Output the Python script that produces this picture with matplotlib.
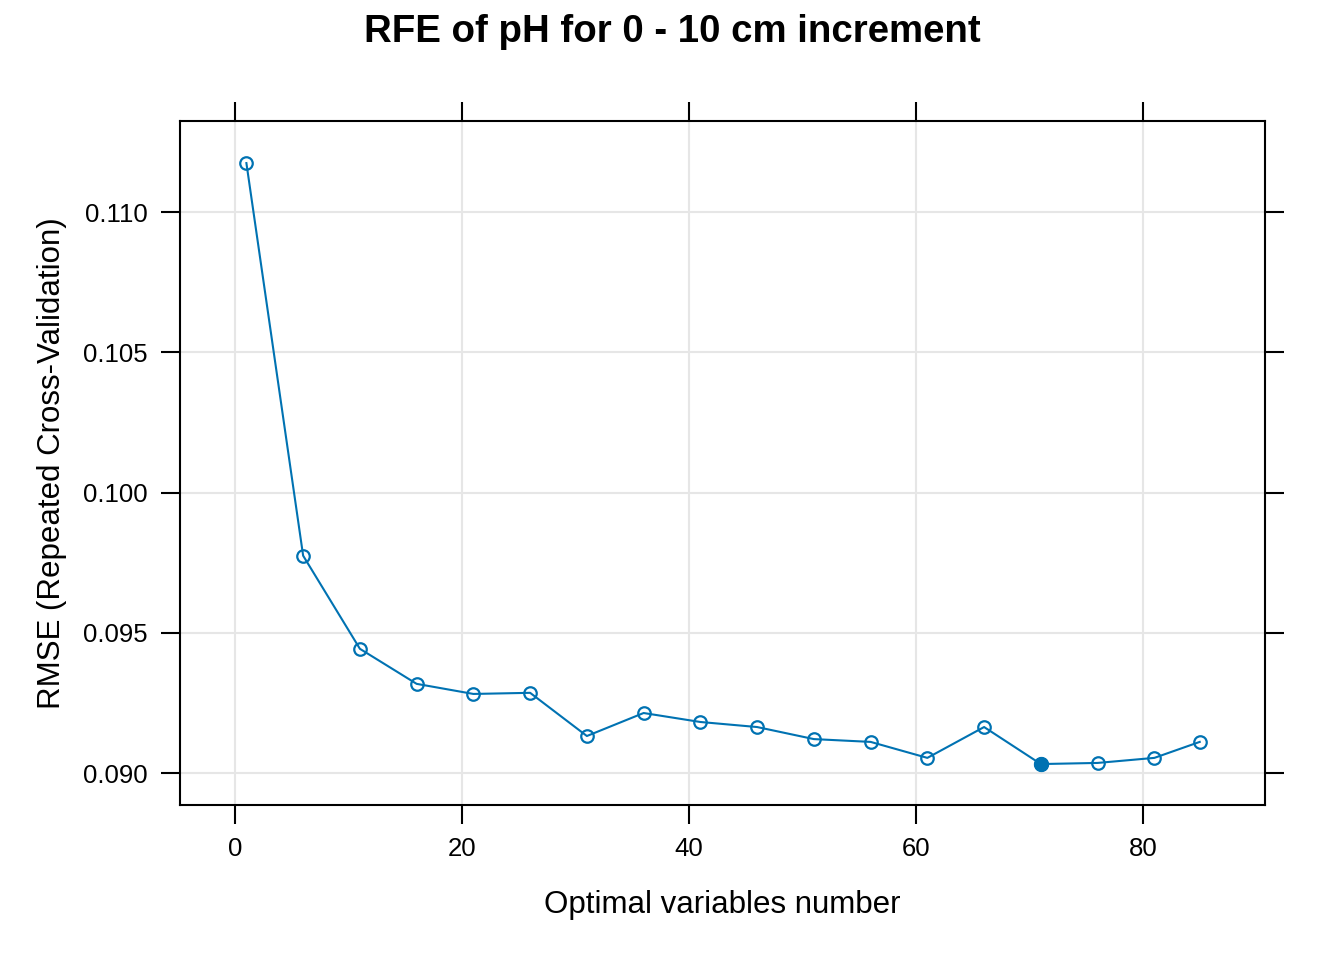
import matplotlib
matplotlib.use("Agg")
import matplotlib.pyplot as plt

variables = [1, 6, 11, 16, 21, 26, 31, 36, 41, 46, 51, 56, 61, 66, 71, 76, 81, 85]
rmse = [0.11175, 0.09775, 0.09443, 0.09318, 0.09282, 0.09286, 0.09132, 0.09214,
        0.09182, 0.09164, 0.09121, 0.09111, 0.09054, 0.09164, 0.09032, 0.09036,
        0.09054, 0.09111]
best_index = 14
xticks = [0, 20, 40, 60, 80]
yticks = [0.090, 0.095, 0.100, 0.105, 0.110]
ytick_labels = ["0.090", "0.095", "0.100", "0.105", "0.110"]

plt.rcParams['font.family'] = ['Liberation Sans', 'DejaVu Sans']
blue = '#0072B2'

fig = plt.figure(figsize=(13.44, 9.6), dpi=100)
ax = fig.add_axes([180/1344, 1-805/960, (1265-180)/1344, (805-121)/960])

ax.plot(variables, rmse, color=blue, lw=1.5, marker='o', ms=9, mfc='none',
        mec=blue, mew=1.6, zorder=3)
ax.plot([variables[best_index]], [rmse[best_index]], 'o', color=blue, ms=10, zorder=4)

ax.set_xlim(-4.85, 90.75)
ax.set_ylim(0.08886, 0.11325)
ax.set_xticks(xticks)
ax.set_yticks(yticks)
ax.set_yticklabels(ytick_labels)
ax.grid(True, color='#E6E6E6', lw=1.5, zorder=0)
ax.set_axisbelow(True)
ax.tick_params(direction='out', length=14, width=1.5, labelsize=18.5,
               top=True, right=True, labeltop=False, labelright=False, pad=9)
for s in ax.spines.values():
    s.set_linewidth(1.5)

ax.set_xlabel("Optimal variables number", fontsize=22.5, labelpad=21)
ax.set_ylabel("RMSE (Repeated Cross-Validation)", fontsize=22.5, labelpad=12)
fig.suptitle("RFE of pH for 0 - 10 cm increment", fontsize=27.6, fontweight='bold',
             y=1-32/960, va='center')

fig.savefig("out.png", dpi=100)
